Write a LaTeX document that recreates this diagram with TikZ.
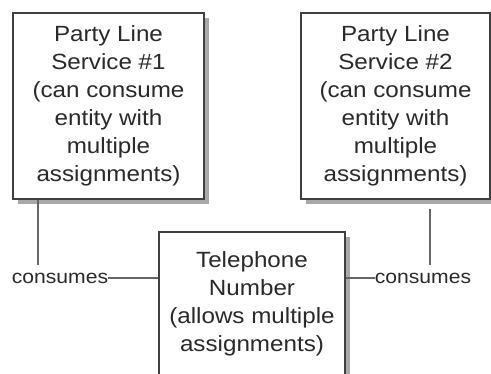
\documentclass[tikz,border=0pt]{standalone}
\usepackage{fontspec}
\setmainfont[FakeStretch=1.10]{Liberation Sans}
\usetikzlibrary{shadows}
\definecolor{edge}{HTML}{404040}
\definecolor{ink}{HTML}{2A2A2A}
\definecolor{conn}{HTML}{666666}
\definecolor{shade}{HTML}{A8A8A8}
\tikzset{
  box/.style={draw=edge, line width=1.4pt, fill=white, inner sep=0pt,
    align=center, text=ink, font=\fontsize{22}{28}\selectfont,
    drop shadow={shadow xshift=4.5pt, shadow yshift=-4.5pt, fill=shade, opacity=1}},
  lbl/.style={inner sep=0pt, text=ink, font=\fontsize{19.2}{20}\selectfont},
  link/.style={draw=conn, line width=1.5pt}
}
\begin{document}
\begin{tikzpicture}[x=1pt,y=-1pt]
\useasboundingbox (0,0) rectangle (491,373);
\node[box, minimum width=191pt, minimum height=186pt] (s1) at (108.5,106) {Party Line\\Service \#1\\(can consume\\entity with\\multiple\\assignments)};
\node[box, minimum width=189pt, minimum height=186pt] (s2) at (395.5,106) {Party Line\\Service \#2\\(can consume\\entity with\\multiple\\assignments)};
\node[box, minimum width=186pt, minimum height=144pt] (tel) at (252,304) {Telephone\\Number\\(allows multiple\\assignments)};
\node[lbl] (c1) at (60,278) {consumes};
\node[lbl] (c2) at (423,278) {consumes};
\coordinate (v1) at (38,265);
\coordinate (v2t) at (430,209);
\coordinate (v2) at (430,265);
\draw[link] (s1.south -| v1) -- (v1);
\draw[link] (v2t) -- (v2);
\draw[link] (c1.east) -- (tel.west |- c1.east);
\draw[link] (tel.east |- c2.west) -- (c2.west);
\end{tikzpicture}
\end{document}
